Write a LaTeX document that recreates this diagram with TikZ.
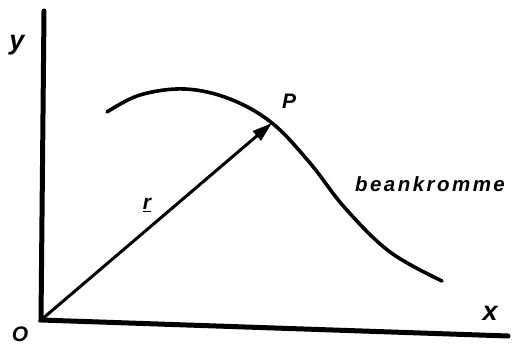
\documentclass[tikz,border=0pt]{standalone}
\usepackage{fontspec}
\setmainfont{Liberation Sans}
\newfontfamily\handfont[LetterSpace=12]{Liberation Sans}
\usetikzlibrary{arrows.meta}
\begin{document}
\begin{tikzpicture}[x=1pt,y=-1pt,
  axis/.style={line width=5pt,line cap=round},
  curve/.style={line width=3.6pt,line cap=round},
  vec/.style={line width=3pt,-{Triangle[length=20pt,width=12pt]}},
  lbl/.style={font=\bfseries\itshape\fontsize{27}{27}\selectfont,inner sep=0pt},
  small/.style={font=\bfseries\itshape\fontsize{21}{21}\selectfont,inner sep=0pt},
  hand/.style={font=\handfont\bfseries\itshape\fontsize{20.5}{20.5}\selectfont,inner sep=0pt}]
\useasboundingbox (0,0) rectangle (516,347);
\coordinate (O) at (41,320);
\coordinate (ytop) at (44,11);
\coordinate (xend) at (508,336);
\coordinate (P) at (272,123);
\draw[axis] (ytop) -- (O) -- (xend);
\draw[curve] plot[smooth,tension=0.6] coordinates {(107,112) (140,95) (185,89) (230,99) (272,123) (310,163) (345,208) (390,252) (442,281)};
\draw[vec] (O) -- (P);
\node[lbl] (ylab) at (17,45) {y};
\node[lbl] (xlab) at (490,313) {x};
\node[small] (olab) at (20,334) {O};
\node[small] (plab) at (289,101) {P};
\node[small] (rlab) at (147,205) {\underline{r}};
\node[hand] (blab) at (430,184) {beankromme};
\end{tikzpicture}
\end{document}
